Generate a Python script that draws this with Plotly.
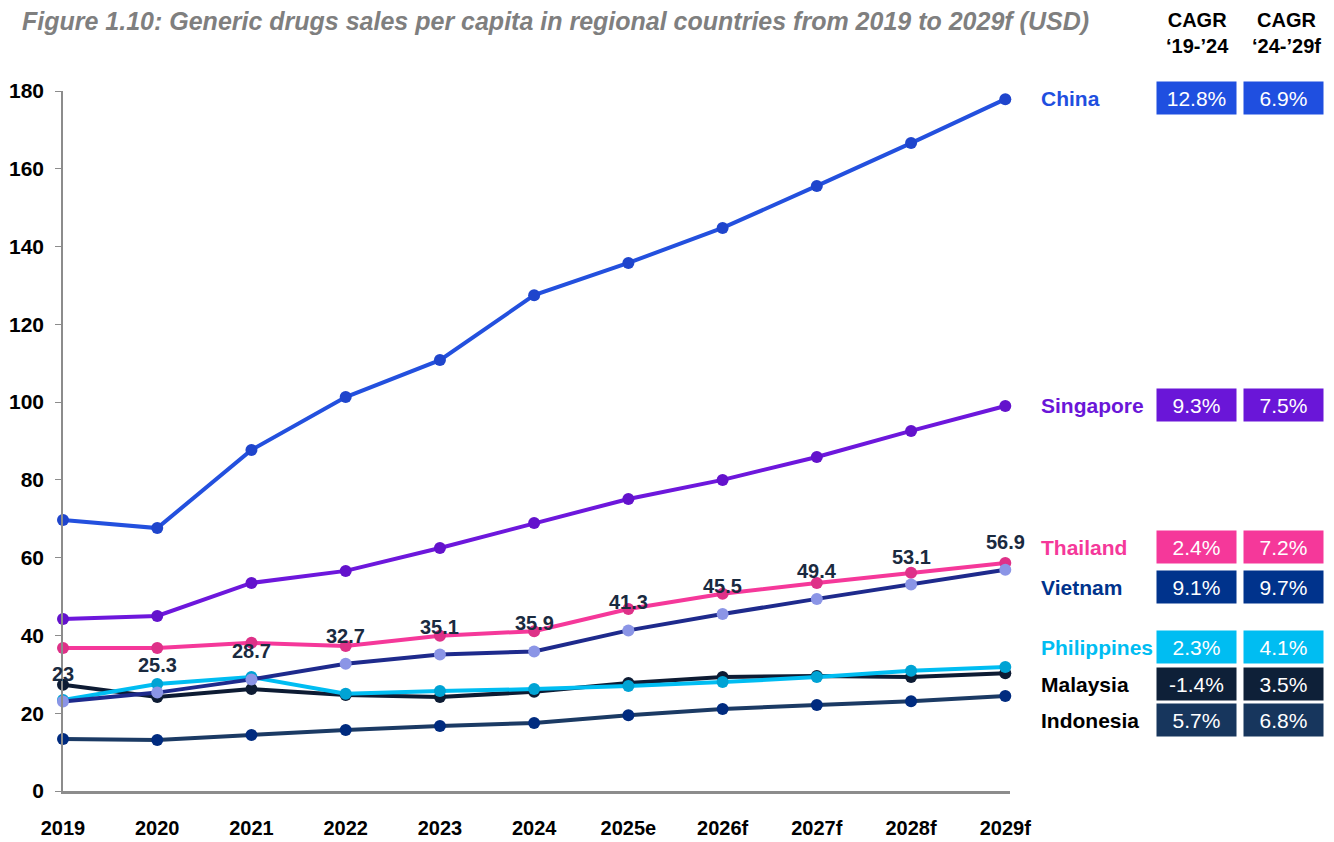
import plotly.graph_objects as go

years = ["2019", "2020", "2021", "2022", "2023", "2024", "2025e", "2026f", "2027f", "2028f", "2029f"]

china = [69.7, 67.6, 87.7, 101.3, 110.8, 127.5, 135.8, 144.8, 155.6, 166.6, 177.9]
singapore = [44.2, 45.0, 53.5, 56.6, 62.5, 68.9, 75.1, 80.0, 85.9, 92.6, 99.0]
thailand = [36.8, 36.8, 38.1, 37.3, 39.9, 41.1, 46.8, 50.7, 53.5, 56.1, 58.6]
vietnam = [23.0, 25.3, 28.7, 32.7, 35.1, 35.9, 41.3, 45.5, 49.4, 53.1, 56.9]
philippines = [23.4, 27.5, 29.3, 25.0, 25.7, 26.2, 27.0, 28.0, 29.3, 30.9, 31.9]
malaysia = [27.3, 24.2, 26.2, 24.7, 24.2, 25.5, 27.8, 29.3, 29.6, 29.3, 30.3]
indonesia = [13.4, 13.1, 14.4, 15.7, 16.7, 17.5, 19.5, 21.1, 22.1, 23.1, 24.4]

countries = ["China", "Singapore", "Thailand", "Vietnam", "Philippines", "Malaysia", "Indonesia"]
cagr_19_24 = ["12.8%", "9.3%", "2.4%", "9.1%", "2.3%", "-1.4%", "5.7%"]
cagr_24_29 = ["6.9%", "7.5%", "7.2%", "9.7%", "4.1%", "3.5%", "6.8%"]

FONT = "Liberation Sans, Arial, sans-serif"

# Layout geometry. The page body adds an 8px offset, so figure coords = screen - 8.
OFF = 8
W_FIG, H_FIG = 1334, 842
L = 63 - OFF
T = 91 - OFF
PLOT_W = 1010 - 63
PLOT_H = 791 - 91
R = W_FIG - L - PLOT_W
B = H_FIG - T - PLOT_H


def px(sx):
    return (sx - OFF - L) / PLOT_W


def py(sy):
    return (T + PLOT_H - (sy - OFF)) / PLOT_H


series = {
    "China": dict(y=china, line="#2350de", marker="#1f45cc"),
    "Singapore": dict(y=singapore, line="#6d17dc", marker="#6312cc"),
    "Thailand": dict(y=thailand, line="#f5389a", marker="#de3188"),
    "Vietnam": dict(y=vietnam, line="#1e2a8c", marker="#8b95e6"),
    "Philippines": dict(y=philippines, line="#00bdf2", marker="#00a3d4"),
    "Malaysia": dict(y=malaysia, line="#0d1b33", marker="#0d1b33"),
    "Indonesia": dict(y=indonesia, line="#1b3a64", marker="#002b7f"),
}
box_colors = {
    "China": "#1f4fe0", "Singapore": "#6a16d8", "Thailand": "#f5389a",
    "Vietnam": "#00338c", "Philippines": "#00bdf2", "Malaysia": "#0e2038",
    "Indonesia": "#17365d",
}
label_colors = {
    "China": "#1f4fe0", "Singapore": "#6a16d8", "Thailand": "#f5389a",
    "Vietnam": "#00338c", "Philippines": "#00bdf2", "Malaysia": "#000000",
    "Indonesia": "#000000",
}
# right-column row centres (screen pixels)
label_py = {"China": 98, "Singapore": 405, "Thailand": 547, "Vietnam": 587,
            "Philippines": 647, "Malaysia": 684, "Indonesia": 720}

xs = list(range(len(years)))
fig = go.Figure()
draw_order = ["Indonesia", "Malaysia", "Philippines", "Thailand", "Vietnam", "Singapore", "China"]
for name in draw_order:
    s = series[name]
    fig.add_trace(go.Scatter(
        x=xs, y=s["y"], mode="lines+markers", name=name,
        line=dict(color=s["line"], width=4),
        marker=dict(color=s["marker"], size=12),
        cliponaxis=False, showlegend=False,
    ))

for i, v in enumerate(vietnam):
    fig.add_annotation(x=i, y=v, text=f"<b>{v:g}</b>", showarrow=False,
                       yshift=28, font=dict(family=FONT, size=20, color="#1a2a40"))

# Country labels and CAGR boxes
for name, a, b in zip(countries, cagr_19_24, cagr_24_29):
    yv = py(label_py[name])
    fig.add_annotation(x=px(1039), y=yv, xref="paper", yref="paper", text=f"<b>{name}</b>",
                       showarrow=False, xanchor="left", yanchor="middle",
                       font=dict(family=FONT, size=21, color=label_colors[name]))
    for xc, txt in ((1196.5, a), (1283.5, b)):
        fig.add_annotation(x=px(xc), y=yv, xref="paper", yref="paper", text=txt,
                           showarrow=False, xanchor="center", yanchor="middle",
                           width=77, height=30, borderpad=1, bgcolor=box_colors[name],
                           font=dict(family=FONT, size=21, color="white"))

# header
for xc, sub in ((1197, "‘19-’24"), (1286, "‘24-’29f")):
    fig.add_annotation(x=px(xc), y=py(33), xref="paper", yref="paper",
                       text=f"<b>CAGR</b><br><b>{sub}</b>", showarrow=False,
                       xanchor="center", yanchor="middle", align="center",
                       font=dict(family=FONT, size=20, color="#000000"))

fig.add_annotation(x=px(20), y=py(21), xref="paper", yref="paper",
                   text="<b><i>Figure 1.10: Generic drugs sales per capita in regional countries from 2019 to 2029f (USD)</i></b>",
                   showarrow=False, xanchor="left", yanchor="middle",
                   font=dict(family=FONT, size=25, color="#7f7f7f"))

fig.update_layout(
    width=W_FIG, height=H_FIG,
    margin=dict(l=L, r=R, t=T, b=B),
    paper_bgcolor="white", plot_bgcolor="white",
    font=dict(family=FONT),
    xaxis=dict(range=[0, 10.05], tickvals=xs, ticktext=[f"<b>{y}</b>" for y in years],
               showgrid=False, zeroline=False, showline=True, linecolor="#8c8c8c",
               linewidth=3, ticks="", ticklabelstandoff=17, automargin=False,
               tickfont=dict(family=FONT, size=20, color="#000000")),
    yaxis=dict(range=[0, 180], tickvals=list(range(0, 181, 20)),
               ticktext=[f"<b>{v}</b>" for v in range(0, 181, 20)],
               showgrid=False, zeroline=False, showline=True, linecolor="#8c8c8c",
               linewidth=1.5, ticks="outside", ticklen=6, tickcolor="#8c8c8c",
               ticklabelstandoff=7, automargin=False,
               tickfont=dict(family=FONT, size=21, color="#000000")),
)

fig.write_html("out.html")
